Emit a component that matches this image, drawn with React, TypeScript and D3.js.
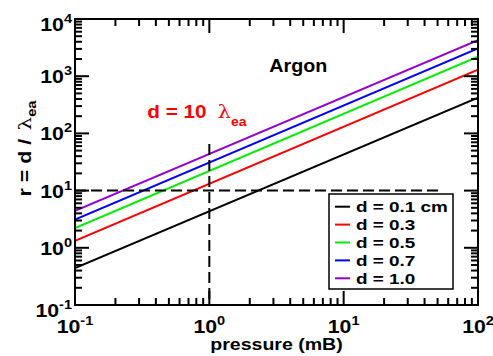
import React from "react";
import * as d3 from "d3";

const pressureEnds = [0.1, 100];
const seriesLabels = ["d = 0.1 cm", "d = 0.3", "d = 0.5", "d = 0.7", "d = 1.0"];
const seriesColors = ["#000000", "#ff0000", "#00ee00", "#0000ff", "#9400d3"];
const seriesValues = [
  [0.44, 420],
  [1.33, 1300],
  [2.22, 2200],
  [3.1, 3050],
  [4.44, 4250],
];
const xMajor = [0.1, 1, 10, 100];
const xExp = ["-1", "0", "1", "2"];
const yMajor = [0.1, 1, 10, 100, 1000, 10000];
const yExp = ["-1", "0", "1", "2", "3", "4"];
const hRef = 10;
const vRef = { p: 1, top: 65 };

const W = 493, H = 356;
const L = 75, R = 478, T = 19, B = 305;
const FONT = "'Liberation Sans', Arial, Helvetica, sans-serif";
const SX = 1.12;

function minors(lo: number, hi: number) {
  const out: number[] = [];
  for (let e = Math.log10(lo); e < Math.log10(hi) - 1e-9; e++) {
    for (let k = 2; k <= 9; k++) out.push(k * Math.pow(10, e));
  }
  return out;
}

export default function App() {
  const x = d3.scaleLog().domain([0.1, 100]).range([L, R]);
  const y = d3.scaleLog().domain([0.1, 10000]).range([B, T]);
  const line = d3.line<[number, number]>().x((d) => x(d[0])).y((d) => y(d[1]));
  const xm = minors(0.1, 100);
  const ym = minors(0.1, 10000);
  const MJ = 14, MN = 7;
  const tickStyle = { stroke: "#000", strokeWidth: 2 };

  const legX = 329, legY = 194, legW = 124, legH = 95, rowH = 17.9;

  return (
    <svg width={W} height={H} style={{ position: "absolute", left: 0, top: 0 }} fontFamily={FONT} fontWeight="bold">
      <rect width={W} height={H} fill="#fff" />
      <defs>
        <clipPath id="clip"><rect x={L} y={T} width={R - L} height={B - T} /></clipPath>
      </defs>
      {/* data lines */}
      <g clipPath="url(#clip)">
        {seriesValues.map((v, i) => (
          <path key={i} d={line(pressureEnds.map((p, j) => [p, v[j]]) as [number, number][]) || ""} fill="none" stroke={seriesColors[i]} strokeWidth={2} />
        ))}
      </g>
      {/* dashed reference lines */}
      <line x1={L} x2={438} y1={y(hRef)} y2={y(hRef)} stroke="#000" strokeWidth={2} strokeDasharray="11,5" />
      <line x1={x(vRef.p)} x2={x(vRef.p)} y1={y(vRef.top)} y2={B} stroke="#000" strokeWidth={2} strokeDasharray="11,5" />
      {/* ticks */}
      {xMajor.map((v, i) => (
        <g key={"xM" + i}>
          <line x1={x(v)} x2={x(v)} y1={B} y2={B - MJ} {...tickStyle} />
          <line x1={x(v)} x2={x(v)} y1={T} y2={T + MJ} {...tickStyle} />
        </g>
      ))}
      {xm.map((v, i) => (
        <g key={"xm" + i}>
          <line x1={x(v)} x2={x(v)} y1={B} y2={B - MN} {...tickStyle} />
          <line x1={x(v)} x2={x(v)} y1={T} y2={T + MN} {...tickStyle} />
        </g>
      ))}
      {yMajor.map((v, i) => (
        <g key={"yM" + i}>
          <line x1={L} x2={L + MJ} y1={y(v)} y2={y(v)} {...tickStyle} />
          <line x1={R} x2={R - MJ} y1={y(v)} y2={y(v)} {...tickStyle} />
        </g>
      ))}
      {ym.map((v, i) => (
        <g key={"ym" + i}>
          <line x1={L} x2={L + MN} y1={y(v)} y2={y(v)} {...tickStyle} />
          <line x1={R} x2={R - MN} y1={y(v)} y2={y(v)} {...tickStyle} />
        </g>
      ))}
      {/* frame */}
      <rect x={L} y={T} width={R - L} height={B - T} fill="none" stroke="#000" strokeWidth={2} />
      {/* x tick labels */}
      {xMajor.map((v, i) => (
        <text key={"xl" + i} transform={`translate(${x(v)},333) scale(${SX},1)`} textAnchor="middle" fontSize={19}>
          10<tspan dy={-8} fontSize={13}>{xExp[i]}</tspan>
        </text>
      ))}
      {/* y tick labels */}
      {yMajor.map((v, i) => {
        const off = i === 0 || i === yMajor.length - 1 ? 5 : 0;
        return (
          <text key={"yl" + i} transform={`translate(72,${y(v) + 7 + off}) scale(${SX},1)`} textAnchor="end" fontSize={19}>
            10<tspan dy={-8} fontSize={13}>{yExp[i]}</tspan>
          </text>
        );
      })}
      {/* axis titles */}
      <text transform={`translate(276.5,350) scale(1.15,1)`} textAnchor="middle" fontSize={17}>pressure (mB)</text>
      <text transform={`translate(30.5,148.5) rotate(-90) scale(1.22,1)`} textAnchor="middle" fontSize={17.5}>
        r = d /<tspan dx={7} fontFamily="'DejaVu Serif', serif" fontWeight="normal">λ</tspan><tspan dy={5} fontSize={12}>ea</tspan>
      </text>
      {/* annotations */}
      <text transform={`translate(269.3,71.7) scale(${SX},1)`} fontSize={17.6}>Argon</text>
      <text transform={`translate(147.3,118.3) scale(${SX},1)`} fontSize={18.5} fill="#ff0000">
        d = 10<tspan dx={10} fontFamily="'DejaVu Serif', serif" fontWeight="normal">λ</tspan><tspan dy={8} fontSize={12.5}>ea</tspan>
      </text>
      {/* legend */}
      <rect x={legX} y={legY} width={legW} height={legH} fill="#fff" stroke="#000" strokeWidth={1.5} />
      {seriesLabels.map((s, i) => {
        const cy = 206.7 + i * rowH;
        return (
          <g key={"lg" + i}>
            <line x1={335} x2={350} y1={cy} y2={cy} stroke={seriesColors[i]} strokeWidth={2} />
            <text transform={`translate(356,${cy + 5.5}) scale(1.22,1)`} fontSize={15.5}>{s}</text>
          </g>
        );
      })}
    </svg>
  );
}
